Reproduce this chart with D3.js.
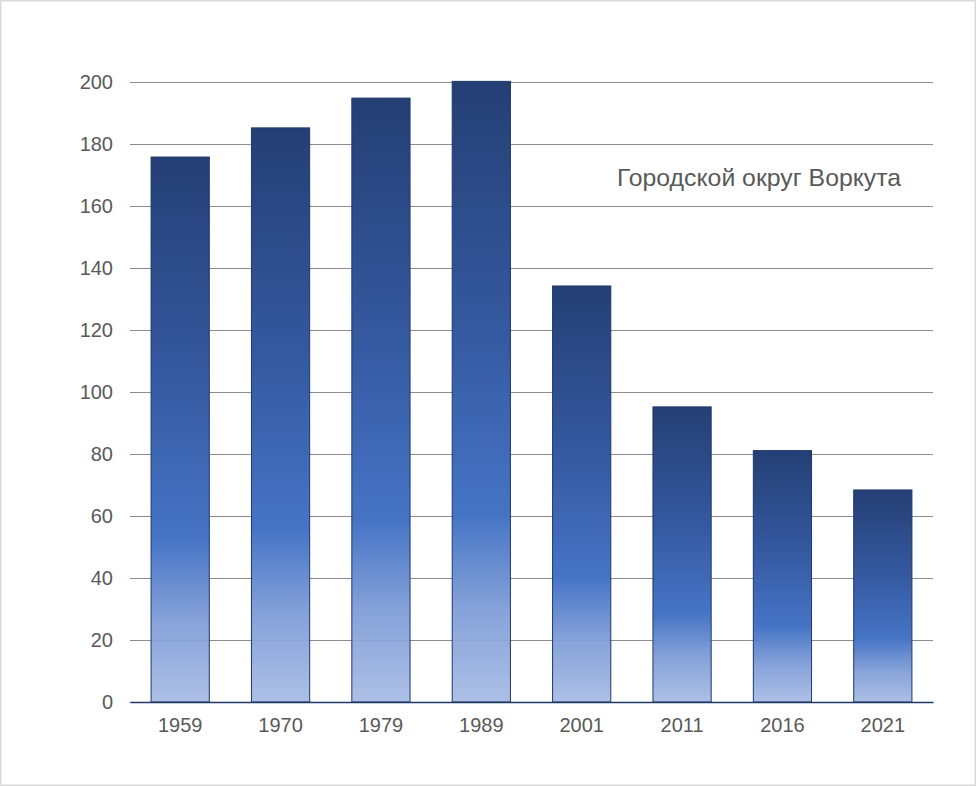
<!DOCTYPE html>
<html>
<head>
<meta charset="utf-8">
<script src="https://cdn.jsdelivr.net/npm/d3@7"></script>
<style>
  body { margin: 0; background: #fff; }
  text { font-family: "Liberation Sans", Arial, sans-serif; }
</style>
</head>
<body>
<div id="chart"></div>
<script>
// data
var years = ["1959", "1970", "1979", "1989", "2001", "2011", "2016", "2021"];
var population = [175.8, 185.2, 194.8, 200.2, 134.2, 95.2, 81.1, 68.4];
var yTicks = [0, 20, 40, 60, 80, 100, 120, 140, 160, 180, 200];
var title = "Городской округ Воркута";

var w = 976;
var h = 786;
var plotLeft = 130, plotRight = 933, plotTop = 82, plotBottom = 702;

var svg = d3.select("#chart")
  .append("svg")
  .attr("width", w)
  .attr("height", h);

// outer frame
svg.append("rect")
  .attr("x", 0.75).attr("y", 0.75)
  .attr("width", w - 1.5).attr("height", h - 1.5)
  .attr("fill", "#fff")
  .attr("stroke", "#d9d9d9")
  .attr("stroke-width", 1.5);

// gradient for bars
var defs = svg.append("defs");
var grad = defs.append("linearGradient")
  .attr("id", "barGrad")
  .attr("x1", 0).attr("y1", 0).attr("x2", 0).attr("y2", 1);
grad.append("stop").attr("offset", "0%").attr("stop-color", "#243f74");
grad.append("stop").attr("offset", "40%").attr("stop-color", "#3559a0");
grad.append("stop").attr("offset", "70%").attr("stop-color", "#4674c5");
grad.append("stop").attr("offset", "85%").attr("stop-color", "#7f9dd7").attr("stop-opacity", 0.95);
grad.append("stop").attr("offset", "100%").attr("stop-color", "#a7bbe4").attr("stop-opacity", 0.93);

var xScale = d3.scaleBand()
  .domain(years)
  .range([plotLeft, plotRight])
  .paddingInner(0.42)
  .paddingOuter(0.21);

var yScale = d3.scaleLinear()
  .domain([0, 200])
  .range([plotBottom, plotTop]);

// gridlines
var yAxis = d3.axisLeft(yScale)
  .tickValues(yTicks)
  .tickSize(-(plotRight - plotLeft))
  .tickPadding(17);

var gy = svg.append("g")
  .attr("class", "y axis")
  .attr("transform", "translate(" + plotLeft + ",0)")
  .call(yAxis);
gy.select(".domain").remove();
gy.selectAll(".tick line")
  .attr("stroke", "#8c8c8c")
  .attr("stroke-width", 1)
  .attr("shape-rendering", "crispEdges");
gy.selectAll(".tick text")
  .attr("fill", "#595959")
  .style("font-size", "20px");

// bars
svg.selectAll("rect.bar")
  .data(population)
  .enter()
  .append("rect")
  .attr("class", "bar")
  .attr("x", function(d, i) { return xScale(years[i]); })
  .attr("y", function(d) { return yScale(d); })
  .attr("width", xScale.bandwidth())
  .attr("height", function(d) { return plotBottom - yScale(d); })
  .attr("fill", "url(#barGrad)")
  .attr("stroke", "#1f3868")
  .attr("stroke-width", 1);

// x axis
var xAxis = d3.axisBottom(xScale)
  .tickSize(0)
  .tickPadding(16);

var gx = svg.append("g")
  .attr("class", "x axis")
  .attr("transform", "translate(0," + plotBottom + ")")
  .call(xAxis);
gx.select(".domain")
  .attr("stroke", "#1f3868")
  .attr("stroke-width", 1.5);
gx.selectAll(".tick text")
  .attr("fill", "#595959")
  .style("font-size", "20px");

// title
svg.append("text")
  .attr("x", 617)
  .attr("y", 186)
  .attr("fill", "#595959")
  .style("font-size", "24.8px")
  .text(title);
</script>
</body>
</html>
